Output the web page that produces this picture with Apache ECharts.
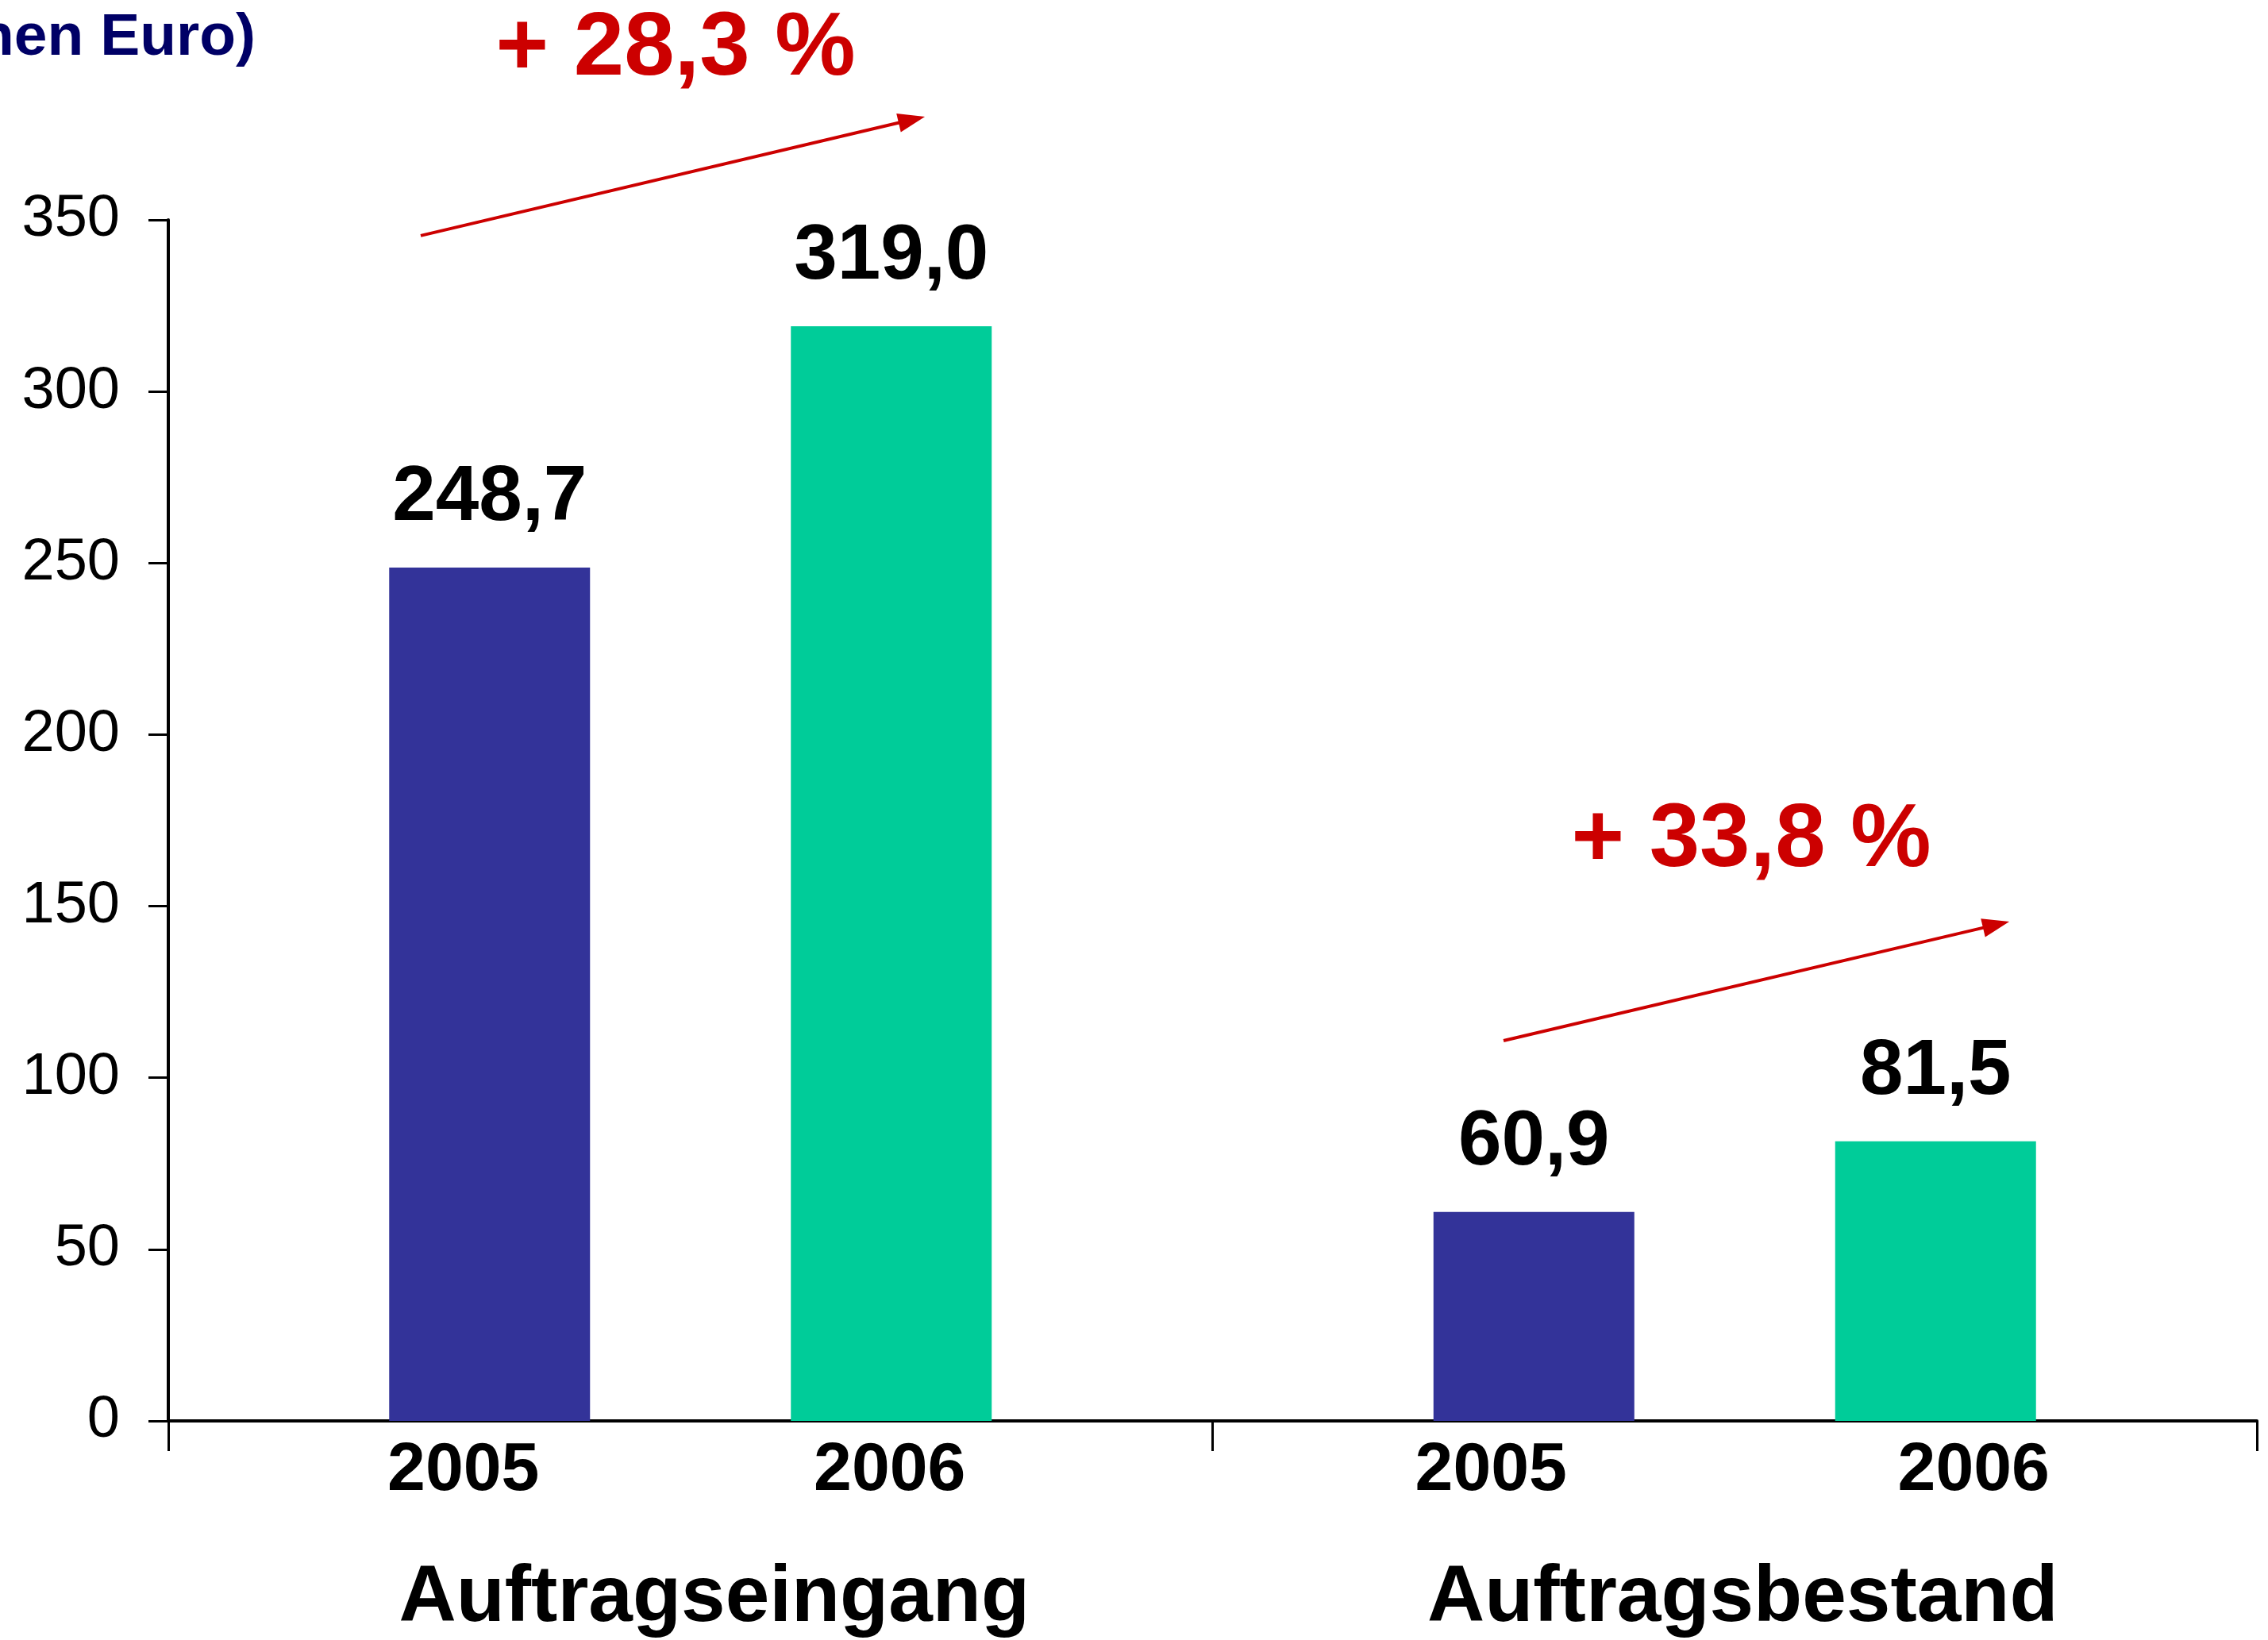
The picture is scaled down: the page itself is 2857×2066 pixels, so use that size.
<!DOCTYPE html>
<html>
<head>
<meta charset="utf-8">
<script src="https://cdn.jsdelivr.net/npm/echarts@6/dist/echarts.min.js"></script>
<style>
html,body{margin:0;padding:0;background:#fff;}
#chart{width:2857px;height:2066px;}
</style>
</head>
<body>
<div id="chart"></div>
<script>
// ---- data ----
const groups = ['Auftragseingang', 'Auftragsbestand'];
const years = ['2005', '2006'];
const values2005 = [248.7, 60.9];
const values2006 = [319.0, 81.5];
const yTicks = { min: 0, max: 350, interval: 50 };
const chartTitle = '(in Millionen Euro)';

// growth annotations (data space: x in category units 0..2, y in Mio. Euro)
const changeLabels = ['+ 28,3 %', '+ 33,8 %'];
const arrowStartX = [0.2417, 1.2786];
const arrowStartY = [345.4, 110.8];
const arrowEndX = [0.7245, 1.7629];
const arrowEndY = [380.1, 145.5];
const changeLabelX = [0.4858, 1.5158];
const changeLabelY = [399.6, 168.9];

const FONT = '"Liberation Sans", Arial, sans-serif';
const annData = changeLabels.map((t, i) => [arrowStartX[i], arrowStartY[i], arrowEndX[i], arrowEndY[i], changeLabelX[i], changeLabelY[i]]);
const fmt = v => v.toFixed(1).replace('.', ',');

const chart = echarts.init(document.getElementById('chart'), null, { renderer: 'canvas' });
chart.setOption({
  animation: false,
  backgroundColor: '#ffffff',
  title: {
    text: chartTitle,
    right: 2535,
    top: 11,
    padding: 0,
    textStyle: { fontFamily: FONT, fontSize: 75, fontWeight: 'bold', color: '#000066' }
  },
  grid: { left: 212, right: 14, top: 277, bottom: 276, containLabel: false },
  xAxis: [
    {
      type: 'category',
      data: groups,
      axisLine: { show: true, lineStyle: { color: '#000', width: 4 } },
      axisTick: { show: true, length: 38, lineStyle: { color: '#000', width: 3 } },
      axisLabel: {
        interval: 0,
        margin: 13,
        formatter: (v, i) => i === 0
          ? '{a|' + years[0] + '}{g0| }{a|' + years[1] + '}{p0| }'
          : '{a|' + years[0] + '}{g1| }{a|' + years[1] + '}{p1| }',
        rich: {
          a: { width: 200, align: 'center', fontFamily: FONT, fontSize: 86, fontWeight: 'bold', color: '#000', lineHeight: 100 },
          g0: { width: 337, fontSize: 10, lineHeight: 100 },
          p0: { width: 35, fontSize: 10, lineHeight: 100 },
          g1: { width: 408, fontSize: 10, lineHeight: 100 },
          p1: { width: 6, fontSize: 10, lineHeight: 100 }
        }
      },
      splitLine: { show: false }
    },
    {
      type: 'value',
      min: 0,
      max: 2,
      show: false
    },
    {
      type: 'category',
      data: groups,
      position: 'bottom',
      axisLine: { show: false },
      axisTick: { show: false },
      axisLabel: {
        interval: 0,
        margin: 174,
        formatter: (v, i) => '{n' + i + '|' + v + '}',
        rich: {
          n0: { fontFamily: FONT, fontSize: 100, fontWeight: 'bold', color: '#000', lineHeight: 100, padding: [0, 0, 0, 60] },
          n1: { fontFamily: FONT, fontSize: 100, fontWeight: 'bold', color: '#000', lineHeight: 100, padding: [0, 0, 0, 20] }
        }
      }
    }
  ],
  yAxis: {
    type: 'value',
    min: yTicks.min,
    max: yTicks.max,
    interval: yTicks.interval,
    axisLine: { show: true, lineStyle: { color: '#000', width: 4 } },
    axisTick: { show: true, length: 25, lineStyle: { color: '#000', width: 3 } },
    axisLabel: { margin: 61, fontFamily: FONT, fontSize: 74, color: '#000' },
    splitLine: { show: false }
  },
  series: [
    {
      name: years[0],
      type: 'bar',
      xAxisIndex: 0,
      data: values2005,
      barWidth: 253,
      barGap: '100%',
      itemStyle: { color: '#333399' },
      label: { show: true, position: 'top', distance: 38, formatter: p => fmt(p.value), fontFamily: FONT, fontSize: 98, fontWeight: 'bold', color: '#000' }
    },
    {
      name: years[1],
      type: 'bar',
      xAxisIndex: 0,
      data: values2006,
      barWidth: 253,
      barGap: '100%',
      itemStyle: { color: '#00CC99' },
      label: { show: true, position: 'top', distance: 38, formatter: p => fmt(p.value), fontFamily: FONT, fontSize: 98, fontWeight: 'bold', color: '#000' }
    },
    {
      type: 'custom',
      xAxisIndex: 1,
      yAxisIndex: 0,
      clip: false,
      silent: true,
      data: annData,
      renderItem: (params, api) => {
        const s = api.coord([api.value(0), api.value(1)]);
        const e = api.coord([api.value(2), api.value(3)]);
        const t = api.coord([api.value(4), api.value(5)]);
        const dx = e[0] - s[0], dy = e[1] - s[1];
        const len = Math.hypot(dx, dy);
        const ux = dx / len, uy = dy / len;
        const hl = 34, hw = 12;
        const bx = e[0] - ux * hl, by = e[1] - uy * hl;
        return {
          type: 'group',
          children: [
            { type: 'line', shape: { x1: s[0], y1: s[1], x2: bx + ux * 4, y2: by + uy * 4 }, style: { stroke: '#CC0000', lineWidth: 4 } },
            { type: 'polygon', shape: { points: [[e[0], e[1]], [bx - uy * hw, by + ux * hw], [bx + uy * hw, by - ux * hw]] }, style: { fill: '#CC0000' } },
            { type: 'text', x: t[0], y: t[1], style: { text: changeLabels[params.dataIndex], fill: '#CC0000', font: 'bold 114px ' + FONT, align: 'center', verticalAlign: 'middle' } }
          ]
        };
      }
    }
  ]
});
</script>
</body>
</html>
